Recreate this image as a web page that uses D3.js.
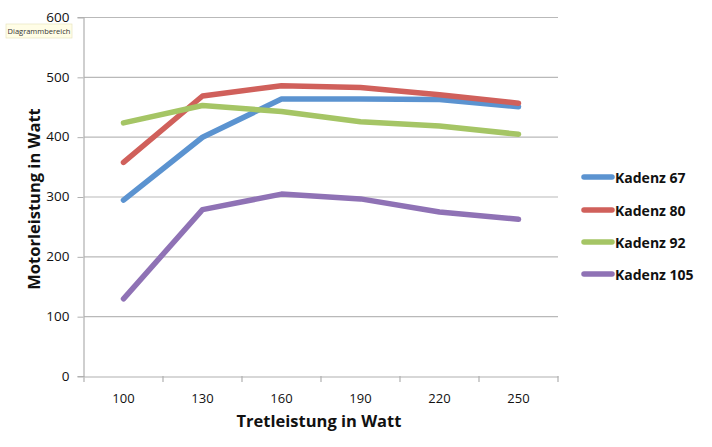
<!DOCTYPE html>
<html><head><meta charset="utf-8">
<script src="https://cdn.jsdelivr.net/npm/d3@7"></script>
<style>body{margin:0;background:#fff}svg{display:block}</style>
</head><body>
<script>
const categories = ["100","130","160","190","220","250"];
const seriesNames = ["Kadenz 67","Kadenz 80","Kadenz 92","Kadenz 105"];
const kadenz67 = [294, 399, 463, 463, 462, 450];
const kadenz80 = [357, 468, 485, 482, 470, 456];
const kadenz92 = [423, 452, 442, 425, 418, 404];
const kadenz105 = [129, 278, 304, 296, 274, 262];
const yTicks = [0,100,200,300,400,500,600];
const colors = ["#5B93D0","#D0605B","#A5C565","#8F72B5"];
const allSeries = [kadenz67,kadenz80,kadenz92,kadenz105];

const W=712,H=447;
const m={left:84,right:154,top:17,bottom:71};
const svg=d3.select("body").append("svg").attr("width",W).attr("height",H);
const font="'Open Sans', 'Liberation Sans', sans-serif";

const x=d3.scaleBand().domain(categories).range([m.left,W-m.right]);
const y=d3.scaleLinear().domain([0,600]).range([H-m.bottom,m.top]);

// gridlines
svg.append("g").selectAll("line").data(yTicks.filter(d=>d>0)).join("line")
  .attr("x1",m.left).attr("x2",W-m.right)
  .attr("y1",d=>y(d)+0.5).attr("y2",d=>y(d)+0.5)
  .attr("stroke","#b9b9b9").attr("stroke-width",1.2);

// y axis
const ya=svg.append("g").attr("transform",`translate(${m.left-0.5},0)`)
  .call(d3.axisLeft(y).tickValues(yTicks).tickSize(6).tickPadding(8).tickFormat(d3.format("d")));
ya.select(".domain").attr("stroke","#b0b0b0").attr("stroke-width",1.2);
ya.selectAll(".tick line").attr("stroke","#b0b0b0").attr("transform","translate(0,0.5)");
ya.selectAll("text").attr("font-family",font).attr("font-size",13.5).attr("fill","#111");

// x axis
const xa=svg.append("g").attr("transform",`translate(0,${H-m.bottom+0.5})`)
  .call(d3.axisBottom(x).tickSize(0).tickPadding(17));
xa.select(".domain").attr("stroke","#b0b0b0").attr("stroke-width",1.2);
xa.selectAll("text").attr("font-family",font).attr("font-size",13).attr("fill","#111");
// band boundary ticks
const bounds=categories.map(c=>x(c)).concat([x(categories[categories.length-1])+x.bandwidth()]);
svg.append("g").selectAll("line").data(bounds).join("line")
  .attr("x1",d=>d).attr("x2",d=>d)
  .attr("y1",H-m.bottom).attr("y2",H-m.bottom+6)
  .attr("stroke","#b0b0b0").attr("stroke-width",1.2);

// lines
const line=d3.line().x((d,i)=>x(categories[i])+x.bandwidth()/2).y(d=>y(d));
svg.append("g").selectAll("path").data(allSeries).join("path")
  .attr("d",line).attr("fill","none")
  .attr("stroke",(d,i)=>colors[i]).attr("stroke-width",5.5)
  .attr("stroke-linejoin","round").attr("stroke-linecap","round");

// axis titles
svg.append("text").attr("x",(m.left+W-m.right)/2 -2).attr("y",427)
  .attr("text-anchor","middle").attr("font-family",font).attr("font-weight","bold")
  .attr("font-size",16.5).attr("fill","#111").text("Tretleistung in Watt");
svg.append("text").attr("transform","translate(40,199) rotate(-90)")
  .attr("text-anchor","middle").attr("font-family",font).attr("font-weight","bold")
  .attr("font-size",16.5).attr("fill","#111").text("Motorleistung in Watt");

// legend
const legY=[177,210,242,274];
const lg=svg.append("g").selectAll("g").data(seriesNames).join("g")
  .attr("transform",(d,i)=>`translate(584,${legY[i]})`);
lg.append("line").attr("x1",0).attr("x2",28).attr("y1",0).attr("y2",0)
  .attr("stroke",(d,i)=>colors[i]).attr("stroke-width",5.5).attr("stroke-linecap","round");
lg.append("text").attr("x",31).attr("y",5.5).attr("font-family",font).attr("font-weight","bold")
  .attr("font-size",14).attr("fill","#111").text(d=>d);

// tooltip
const tt=svg.append("g").attr("transform","translate(6,24)");
tt.append("rect").attr("width",66).attr("height",14).attr("fill","#fffde6").attr("stroke","#e8e4c0").attr("stroke-width",0.7);
tt.append("text").attr("x",33).attr("y",10).attr("text-anchor","middle")
  .attr("font-family",font).attr("font-size",7.5).attr("fill","#333").text("Diagrammbereich");
</script>
</body></html>
